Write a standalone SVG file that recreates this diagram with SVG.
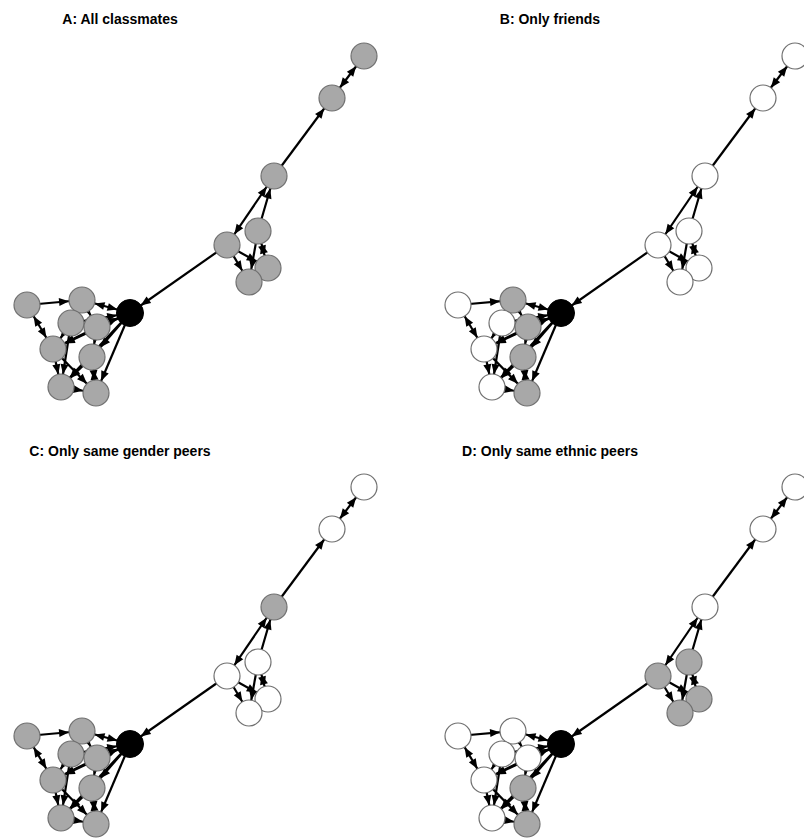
<svg xmlns="http://www.w3.org/2000/svg" xmlns:xlink="http://www.w3.org/1999/xlink" width="804" height="838" viewBox="0 0 804 838">
<style>
.t{font-family:"Liberation Sans",Arial,sans-serif;font-weight:bold;font-size:14px;fill:#000;text-anchor:middle}
.e{stroke:#000;stroke-width:2.2;fill:none;marker-end:url(#ah)}
.b{stroke:#000;stroke-width:2.2;fill:none;marker-end:url(#ah);marker-start:url(#ah)}
.g{fill:#a8a8a8;stroke:#707070;stroke-width:1.2}
.w{fill:#ffffff;stroke:#707070;stroke-width:1.2}
.k{fill:#000000;stroke:#000000;stroke-width:1}
</style>
<defs>
<marker id="ah" markerUnits="userSpaceOnUse" markerWidth="10" markerHeight="8" refX="23" refY="4" orient="auto-start-reverse" overflow="visible">
<path d="M0,0 L10,4 L0,8 z" fill="#000"/>
</marker>
<g id="edges">
<line class="b" x1="364" y1="56" x2="332" y2="98"/>
<line class="e" x1="274" y1="176" x2="332" y2="98"/>
<line class="e" x1="258" y1="231" x2="274" y2="176"/>
<line class="b" x1="227" y1="245" x2="274" y2="176"/>
<line class="e" x1="227" y1="245" x2="130" y2="313"/>
<line class="e" x1="227" y1="245" x2="249" y2="282"/>
<line class="e" x1="227" y1="245" x2="268" y2="268"/>
<line class="b" x1="258" y1="231" x2="268" y2="268"/>
<line class="e" x1="258" y1="231" x2="249" y2="282"/>
<line class="e" x1="27" y1="305" x2="82" y2="300"/>
<line class="b" x1="27" y1="305" x2="53" y2="349"/>
<line class="b" x1="82" y1="300" x2="130" y2="313"/>
<line class="e" x1="71" y1="323" x2="130" y2="313"/>
<line class="e" x1="97" y1="327" x2="130" y2="313"/>
<line class="e" x1="130" y1="313" x2="53" y2="349"/>
<line class="e" x1="130" y1="313" x2="92" y2="357"/>
<line class="e" x1="130" y1="313" x2="96" y2="393"/>
<line class="e" x1="130" y1="313" x2="61" y2="387"/>
<line class="e" x1="82" y1="300" x2="97" y2="327"/>
<line class="e" x1="71" y1="323" x2="53" y2="349"/>
<line class="e" x1="97" y1="327" x2="92" y2="357"/>
<line class="e" x1="53" y1="349" x2="61" y2="387"/>
<line class="e" x1="53" y1="349" x2="96" y2="393"/>
<line class="e" x1="92" y1="357" x2="61" y2="387"/>
<line class="b" x1="92" y1="357" x2="96" y2="393"/>
<line class="e" x1="61" y1="387" x2="96" y2="393"/>
<line class="e" x1="71" y1="323" x2="61" y2="387"/>
<line class="e" x1="97" y1="327" x2="53" y2="349"/>
</g>
</defs>
<rect width="804" height="838" fill="#fff"/>
<g id="titles">
<text class="t" x="120" y="24">A: All classmates</text>
<text class="t" x="550" y="24">B: Only friends</text>
<text class="t" x="120" y="456">C: Only same gender peers</text>
<text class="t" x="550" y="456">D: Only same ethnic peers</text>
</g>
<g id="connectors">
<use xlink:href="#edges" href="#edges"/>
<use xlink:href="#edges" href="#edges" transform="translate(431,0)"/>
<use xlink:href="#edges" href="#edges" transform="translate(0,431)"/>
<use xlink:href="#edges" href="#edges" transform="translate(431,431)"/>
</g>
<g id="panelA">
<g id="A-T1"><circle class="g" cx="364" cy="56" r="13"/></g>
<g id="A-T2"><circle class="g" cx="332" cy="98" r="13"/></g>
<g id="A-T3"><circle class="g" cx="274" cy="176" r="13"/></g>
<g id="A-U1"><circle class="g" cx="258" cy="231" r="13"/></g>
<g id="A-U2"><circle class="g" cx="227" cy="245" r="13"/></g>
<g id="A-U3"><circle class="g" cx="268" cy="268" r="13"/></g>
<g id="A-U4"><circle class="g" cx="249" cy="282" r="13"/></g>
<g id="A-L1"><circle class="g" cx="27" cy="305" r="13"/></g>
<g id="A-L2"><circle class="g" cx="82" cy="300" r="13"/></g>
<g id="A-L3"><circle class="g" cx="71" cy="323" r="13"/></g>
<g id="A-L4"><circle class="g" cx="97" cy="327" r="13"/></g>
<g id="A-L5"><circle class="g" cx="53" cy="349" r="13"/></g>
<g id="A-L6"><circle class="g" cx="92" cy="357" r="13"/></g>
<g id="A-L7"><circle class="g" cx="61" cy="387" r="13"/></g>
<g id="A-L8"><circle class="g" cx="96" cy="393" r="13"/></g>
<g id="A-EGO"><circle class="k" cx="130" cy="313" r="13.5"/></g>
</g>
<g id="panelB" transform="translate(431,0)">
<g id="B-T1"><circle class="w" cx="364" cy="56" r="13"/></g>
<g id="B-T2"><circle class="w" cx="332" cy="98" r="13"/></g>
<g id="B-T3"><circle class="w" cx="274" cy="176" r="13"/></g>
<g id="B-U1"><circle class="w" cx="258" cy="231" r="13"/></g>
<g id="B-U2"><circle class="w" cx="227" cy="245" r="13"/></g>
<g id="B-U3"><circle class="w" cx="268" cy="268" r="13"/></g>
<g id="B-U4"><circle class="w" cx="249" cy="282" r="13"/></g>
<g id="B-L1"><circle class="w" cx="27" cy="305" r="13"/></g>
<g id="B-L2"><circle class="g" cx="82" cy="300" r="13"/></g>
<g id="B-L3"><circle class="w" cx="71" cy="323" r="13"/></g>
<g id="B-L4"><circle class="g" cx="97" cy="327" r="13"/></g>
<g id="B-L5"><circle class="w" cx="53" cy="349" r="13"/></g>
<g id="B-L6"><circle class="g" cx="92" cy="357" r="13"/></g>
<g id="B-L7"><circle class="w" cx="61" cy="387" r="13"/></g>
<g id="B-L8"><circle class="g" cx="96" cy="393" r="13"/></g>
<g id="B-EGO"><circle class="k" cx="130" cy="313" r="13.5"/></g>
</g>
<g id="panelC" transform="translate(0,431)">
<g id="C-T1"><circle class="w" cx="364" cy="56" r="13"/></g>
<g id="C-T2"><circle class="w" cx="332" cy="98" r="13"/></g>
<g id="C-T3"><circle class="g" cx="274" cy="176" r="13"/></g>
<g id="C-U1"><circle class="w" cx="258" cy="231" r="13"/></g>
<g id="C-U2"><circle class="w" cx="227" cy="245" r="13"/></g>
<g id="C-U3"><circle class="w" cx="268" cy="268" r="13"/></g>
<g id="C-U4"><circle class="w" cx="249" cy="282" r="13"/></g>
<g id="C-L1"><circle class="g" cx="27" cy="305" r="13"/></g>
<g id="C-L2"><circle class="g" cx="82" cy="300" r="13"/></g>
<g id="C-L3"><circle class="g" cx="71" cy="323" r="13"/></g>
<g id="C-L4"><circle class="g" cx="97" cy="327" r="13"/></g>
<g id="C-L5"><circle class="g" cx="53" cy="349" r="13"/></g>
<g id="C-L6"><circle class="g" cx="92" cy="357" r="13"/></g>
<g id="C-L7"><circle class="g" cx="61" cy="387" r="13"/></g>
<g id="C-L8"><circle class="g" cx="96" cy="393" r="13"/></g>
<g id="C-EGO"><circle class="k" cx="130" cy="313" r="13.5"/></g>
</g>
<g id="panelD" transform="translate(431,431)">
<g id="D-T1"><circle class="w" cx="364" cy="56" r="13"/></g>
<g id="D-T2"><circle class="w" cx="332" cy="98" r="13"/></g>
<g id="D-T3"><circle class="w" cx="274" cy="176" r="13"/></g>
<g id="D-U1"><circle class="g" cx="258" cy="231" r="13"/></g>
<g id="D-U2"><circle class="g" cx="227" cy="245" r="13"/></g>
<g id="D-U3"><circle class="g" cx="268" cy="268" r="13"/></g>
<g id="D-U4"><circle class="g" cx="249" cy="282" r="13"/></g>
<g id="D-L1"><circle class="w" cx="27" cy="305" r="13"/></g>
<g id="D-L2"><circle class="w" cx="82" cy="300" r="13"/></g>
<g id="D-L3"><circle class="w" cx="71" cy="323" r="13"/></g>
<g id="D-L4"><circle class="w" cx="97" cy="327" r="13"/></g>
<g id="D-L5"><circle class="w" cx="53" cy="349" r="13"/></g>
<g id="D-L6"><circle class="g" cx="92" cy="357" r="13"/></g>
<g id="D-L7"><circle class="w" cx="61" cy="387" r="13"/></g>
<g id="D-L8"><circle class="g" cx="96" cy="393" r="13"/></g>
<g id="D-EGO"><circle class="k" cx="130" cy="313" r="13.5"/></g>
</g>
</svg>
